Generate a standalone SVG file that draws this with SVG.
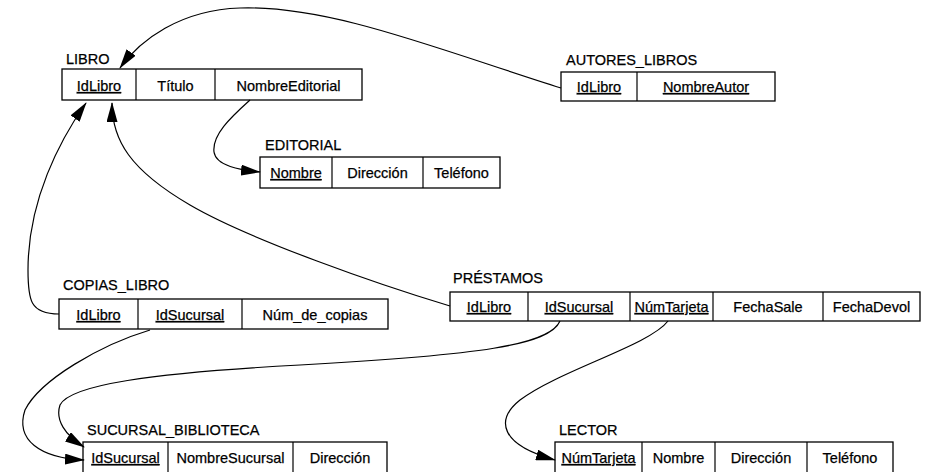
<svg xmlns="http://www.w3.org/2000/svg" width="926" height="472" viewBox="0 0 926 472">
  <defs>
    <marker id="arrow" markerUnits="userSpaceOnUse" markerWidth="20" markerHeight="11" refX="19" refY="5.5" orient="auto">
      <path d="M0,0 L20,5.5 L0,11 Z" fill="#000"/>
    </marker>
    <style>
      .box { fill: #fff; stroke: #000; stroke-width: 1.3; }
      .div { stroke: #000; stroke-width: 1.2; }
      .lbl { font-family: "Liberation Sans", Arial, sans-serif; font-size: 14.5px; fill: #000; stroke: #000; stroke-width: 0.25; }
      .fld { font-family: "Liberation Sans", Arial, sans-serif; font-size: 14.5px; fill: #000; stroke: #000; stroke-width: 0.25; text-anchor: middle; }
      .key { text-decoration: underline; }
      .conn { fill: none; stroke: #000; stroke-width: 1.2; }
    </style>
  </defs>
  <rect width="926" height="472" fill="#fff"/>

  <!-- LIBRO -->
  <g id="libro">
    <text class="lbl" x="66" y="64">LIBRO</text>
    <rect class="box" x="62" y="69" width="300" height="31"/>
    <line class="div" x1="136" y1="69" x2="136" y2="100"/>
    <line class="div" x1="215" y1="69" x2="215" y2="100"/>
    <text class="fld key" x="99" y="91">IdLibro</text>
    <text class="fld" x="175.5" y="91">Título</text>
    <text class="fld" x="288.5" y="91">NombreEditorial</text>
  </g>

  <!-- AUTORES_LIBROS -->
  <g id="autores_libros">
    <text class="lbl" x="566" y="65">AUTORES_LIBROS</text>
    <rect class="box" x="561" y="72" width="214" height="29"/>
    <line class="div" x1="637" y1="72" x2="637" y2="101"/>
    <text class="fld key" x="599" y="92">IdLibro</text>
    <text class="fld key" x="706" y="92">NombreAutor</text>
  </g>

  <!-- EDITORIAL -->
  <g id="editorial">
    <text class="lbl" x="265" y="150">EDITORIAL</text>
    <rect class="box" x="260" y="157" width="240" height="31"/>
    <line class="div" x1="332" y1="157" x2="332" y2="188"/>
    <line class="div" x1="423" y1="157" x2="423" y2="188"/>
    <text class="fld key" x="296" y="178">Nombre</text>
    <text class="fld" x="377.5" y="178">Dirección</text>
    <text class="fld" x="461.5" y="178">Teléfono</text>
  </g>

  <!-- COPIAS_LIBRO -->
  <g id="copias_libro">
    <text class="lbl" x="63" y="290">COPIAS_LIBRO</text>
    <rect class="box" x="59" y="299" width="329" height="30"/>
    <line class="div" x1="138" y1="299" x2="138" y2="329"/>
    <line class="div" x1="242" y1="299" x2="242" y2="329"/>
    <text class="fld key" x="98.5" y="320">IdLibro</text>
    <text class="fld key" x="190" y="320">IdSucursal</text>
    <text class="fld" x="315" y="320">Núm_de_copias</text>
  </g>

  <!-- PRÉSTAMOS -->
  <g id="prestamos">
    <text class="lbl" x="453" y="283">PRÉSTAMOS</text>
    <rect class="box" x="450" y="292" width="470" height="29"/>
    <line class="div" x1="528" y1="292" x2="528" y2="321"/>
    <line class="div" x1="630" y1="292" x2="630" y2="321"/>
    <line class="div" x1="713" y1="292" x2="713" y2="321"/>
    <line class="div" x1="823" y1="292" x2="823" y2="321"/>
    <text class="fld key" x="489" y="312">IdLibro</text>
    <text class="fld key" x="579" y="312">IdSucursal</text>
    <text class="fld key" x="671.5" y="312">NúmTarjeta</text>
    <text class="fld" x="768" y="312">FechaSale</text>
    <text class="fld" x="871.5" y="312">FechaDevol</text>
  </g>

  <!-- SUCURSAL_BIBLIOTECA -->
  <g id="sucursal_biblioteca">
    <text class="lbl" x="87" y="435">SUCURSAL_BIBLIOTECA</text>
    <rect class="box" x="83" y="442" width="304" height="34"/>
    <line class="div" x1="168" y1="442" x2="168" y2="476"/>
    <line class="div" x1="293" y1="442" x2="293" y2="476"/>
    <text class="fld key" x="125.5" y="463">IdSucursal</text>
    <text class="fld" x="230.5" y="463">NombreSucursal</text>
    <text class="fld" x="340" y="463">Dirección</text>
  </g>

  <!-- LECTOR -->
  <g id="lector">
    <text class="lbl" x="559" y="435">LECTOR</text>
    <rect class="box" x="555" y="442" width="338" height="34"/>
    <line class="div" x1="642" y1="442" x2="642" y2="476"/>
    <line class="div" x1="715" y1="442" x2="715" y2="476"/>
    <line class="div" x1="807" y1="442" x2="807" y2="476"/>
    <text class="fld key" x="598.5" y="463">NúmTarjeta</text>
    <text class="fld" x="678.5" y="463">Nombre</text>
    <text class="fld" x="761" y="463">Dirección</text>
    <text class="fld" x="850" y="463">Teléfono</text>
  </g>

  <!-- foreign-key references -->
  <g id="connectors">
    <path class="conn" marker-end="url(#arrow)" d="M561,88 C440,50 330,5 240,8 C180,10 140,40 120,68"/>
    <path class="conn" marker-end="url(#arrow)" d="M250,100 C230,118 212,135 214,152 C216,166 240,170 260,172"/>
    <path class="conn" marker-end="url(#arrow)" d="M59,314 C30,314 28,300 28,270 C28,200 60,140 86,103"/>
    <path class="conn" marker-end="url(#arrow)" d="M450,306 C380,285 250,240 190,205 C130,170 112,140 112,103"/>
    <path class="conn" marker-end="url(#arrow)" d="M150,330 C100,345 40,380 25,410 C15,440 40,458 84,460"/>
    <path class="conn" marker-end="url(#arrow)" d="M560,321 C550,345 480,355 300,365 C150,373 70,385 60,405 C55,420 65,435 84,447"/>
    <path class="conn" marker-end="url(#arrow)" d="M668,321 C650,345 560,370 520,400 C495,420 500,445 555,460"/>
  </g>
</svg>
